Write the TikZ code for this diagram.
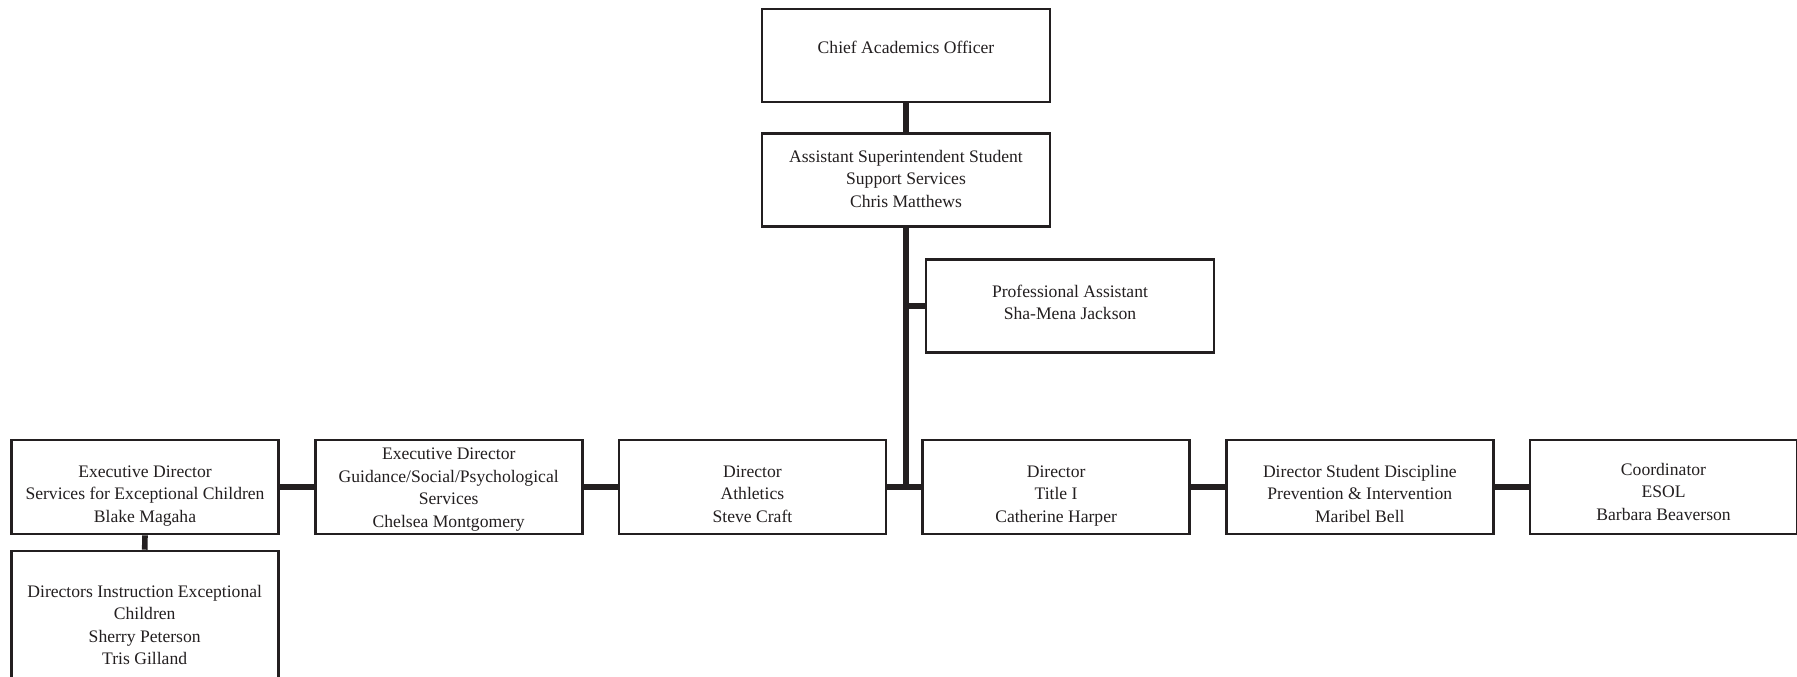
\documentclass[tikz,border=0pt]{standalone}
\usepackage{fontspec}
\setmainfont{Liberation Serif}
\definecolor{ink}{HTML}{231F20}
\newcommand{\bt}[2][0pt]{\raisebox{#1}[\height][\depth]{\begin{tabular}{@{}c@{}}#2\end{tabular}}}
\begin{document}
\begin{tikzpicture}[x=0.5pt,y=-0.5pt,
  box/.style={draw=ink, line width=1.3pt, rectangle, fill=white, inner sep=0pt, text=ink,
              font=\fontsize{8.8}{11.25}\selectfont},
  wide/.style={minimum width=144pt, minimum height=46.5pt},
  row/.style={minimum width=133.5pt, minimum height=47pt},
  link/.style={draw=ink, line width=2.8pt}]
\useasboundingbox (0,0) rectangle (1797,676);
\clip (0,0) rectangle (1797,676);
% boxes
\node[box,wide] (chief) at (906,55.5) {\bt[3.5pt]{Chief Academics Officer}};
\node[box,wide] (asst) at (906,180) {\bt{Assistant Superintendent Student\\Support Services\\Chris Matthews}};
\node[box,wide] (prof) at (1070,306) {\bt[1pt]{Professional Assistant\\Sha-Mena Jackson}};
\node[box,row] (sec) at (145,487) {\bt[-4pt]{Executive Director\\Services for Exceptional Children\\Blake Magaha}};
\node[box,row] (guid) at (448.7,487) {\bt[-1pt]{Executive Director\\Guidance/Social/Psychological\\Services\\Chelsea Montgomery}};
\node[box,row] (ath) at (752.4,487) {\bt[-4pt]{Director\\Athletics\\Steve Craft}};
\node[box,row] (title) at (1056.1,487) {\bt[-4pt]{Director\\Title I\\Catherine Harper}};
\node[box,row] (disc) at (1359.8,487) {\bt[-4pt]{Director Student Discipline\\Prevention \& Intervention\\Maribel Bell}};
\node[box,row] (esol) at (1663.5,487) {\bt[-3pt]{Coordinator\\ESOL\\Barbara Beaverson}};
\node[box,row,minimum height=75.5pt] (dir) at (144.7,626.5) {\bt{Directors Instruction Exceptional\\Children\\Sherry Peterson\\Tris Gilland}};
% connectors
\draw[link] (chief.south) -- (asst.north);
\draw[link] (asst.south) -- (asst.south |- ath.east);
\draw[link] (asst.south |- prof.west) -- (prof.west);
\draw[link] (sec.east) -- (guid.west);
\draw[link] (guid.east) -- (ath.west);
\draw[link] (ath.east) -- (title.west);
\draw[link] (title.east) -- (disc.west);
\draw[link] (disc.east) -- (esol.west);
\draw[link] (sec.south) -- (dir.north);
\end{tikzpicture}
\end{document}
